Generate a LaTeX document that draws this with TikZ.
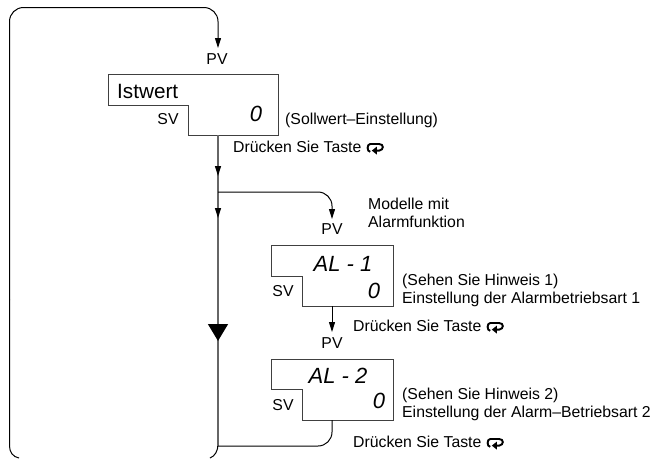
\documentclass[tikz,border=0pt]{standalone}
\usepackage{fontspec}
\setmainfont{Liberation Sans}
\usetikzlibrary{arrows.meta}
\newcommand{\keysym}{\tikz[baseline=-0.5pt,x=1.2pt,y=1.2pt,line width=1.9pt]{
  \draw (3.5,0.5) .. controls (0.6,0.5) and (0.6,7) .. (3.5,7) -- (11,7) .. controls (15,7) and (15,2) .. (11,1.5) -- (8,1.5);
  \fill (9,4.8) -- (4.8,1.5) -- (9,-1.8) -- cycle;}}
\tikzset{
  lbl/.style={font=\fontsize{15.8}{17.5}\selectfont,inner sep=0pt,anchor=west,align=left},
  disp/.style={font=\fontsize{22}{24}\selectfont\itshape,inner sep=0pt},
  boxline/.style={draw=black!75,line width=1pt},
  flow/.style={black,line width=1pt},
  trunk/.style={black!60,line width=1.4pt},
  small/.style={-{Triangle[width=6pt,length=10pt,black]}},
  big/.style={-{Triangle[width=20pt,length=17pt,black]}}
}
\begin{document}
\begin{tikzpicture}[x=1pt,y=-1pt]
\useasboundingbox (0,0) rectangle (655,459);
% boxes
\draw[boxline] (108,74) -- (278,74) -- (278,135) -- (188,135) -- (188,105) -- (108,105) -- cycle;
\draw[boxline] (271,245) -- (393,245) -- (393,306) -- (302,306) -- (302,276) -- (271,276) -- cycle;
\draw[boxline] (271,359) -- (393,359) -- (393,420) -- (302,420) -- (302,389) -- (271,389) -- cycle;
\coordinate (b1) at (218,135);
\coordinate (b2top) at (332,219);
\coordinate (b2) at (332,306);
\coordinate (b2end) at (332,332);
\coordinate (b3) at (332,420);
\coordinate (t0) at (218,48);
\coordinate (t1) at (218,176);
\coordinate (j1) at (218,192);
\coordinate (t2) at (218,218);
\coordinate (t3) at (218,341);
\coordinate (j2) at (218,446);
\coordinate (lb) at (9.5,446);
% loop
\draw[flow,small,rounded corners=14pt] (9.5,300) -- (9.5,7.5) -- (218,7.5) -- (t0);
\draw[flow] (9.5,299.5) -- (lb) .. controls (9.5,452) and (13,457) .. (19,458);
\draw[flow] (218,444) .. controls (218,451) and (215,456) .. (210,458);
% trunk
\draw[trunk] (b1) -- (j2);
\draw[trunk,small] (b1) -- (t1);
\draw[trunk,small] (j1) -- (t2);
\draw[trunk,big] (t2) -- (t3);
% branches
\draw[flow,small,rounded corners=14pt] (j1) -| (b2top);
\draw[flow,small] (b2) -- (b2end);
\draw[flow,rounded corners=14pt] (b3) |- (j2);
% texts
\node[lbl,anchor=center] (pv1) at (217,59) {PV};
\node[lbl,font=\fontsize{20.7}{22}\selectfont] (ist) at (117,91) {Istwert};
\node[lbl,anchor=center] (sv1) at (168,119) {SV};
\node[disp] (d1) at (256,114) {0};
\node[lbl] (s1) at (285,120) {(Sollwert–Einstellung)};
\node[lbl] (k1) at (233,148) {Drücken Sie Taste \keysym};
\node[lbl] (m1) at (368,213) {Modelle mit\\Alarmfunktion};
\node[lbl,anchor=center] (pv2) at (332,229) {PV};
\node[disp] (a1) at (343,264) {AL - 1};
\node[lbl,anchor=center] (sv2) at (283,291) {SV};
\node[disp] (d2) at (374,291) {0};
\node[lbl] (n1) at (402,290.5) {(Sehen Sie Hinweis 1)\\Einstellung der Alarmbetriebsart 1};
\node[lbl] (k2) at (353,327) {Drücken Sie Taste \keysym};
\node[lbl,anchor=center] (pv3) at (332,343) {PV};
\node[disp] (a2) at (338,375.5) {AL - 2};
\node[lbl,anchor=center] (sv3) at (283,405) {SV};
\node[disp] (d3) at (379,400.5) {0};
\node[lbl] (n2) at (402,404.5) {(Sehen Sie Hinweis 2)\\Einstellung der Alarm–Betriebsart 2};
\node[lbl] (k3) at (353,443) {Drücken Sie Taste \keysym};
\end{tikzpicture}
\end{document}
